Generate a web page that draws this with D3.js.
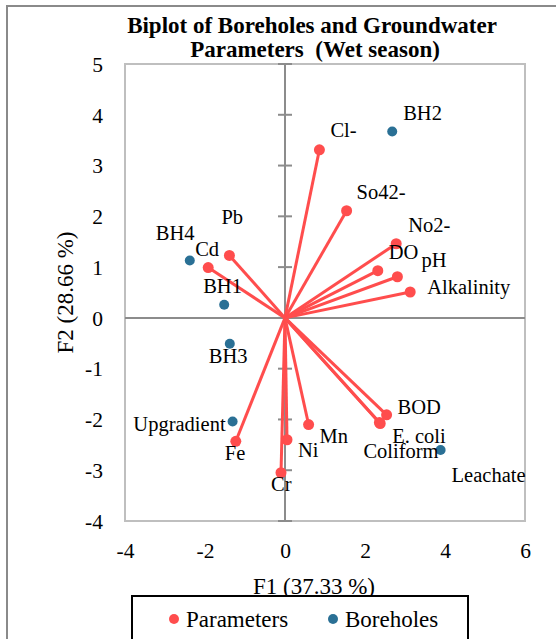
<!DOCTYPE html>
<html>
<head>
<meta charset="utf-8">
<script src="https://cdn.jsdelivr.net/npm/d3@7"></script>
<style>
  body { margin: 0; background: #fff; }
  svg, svg text { font-family: "Liberation Serif", "Times New Roman", serif !important; }
  svg text { fill: #000; }
</style>
</head>
<body>
<svg id="chart" width="556" height="639"></svg>
<script>
// ---- Data ----
const paramNames = ["Cl-", "So42-", "No2-", "DO", "pH", "Alkalinity", "Pb", "Cd", "Fe", "Ni", "Cr", "Mn", "BOD", "E. coli", "Coliform"];
const paramF1 = [0.86, 1.54, 2.78, 2.32, 2.81, 3.13, -1.39, -1.92, -1.23, 0.05, -0.10, 0.59, 2.54, 2.38, 2.36];
const paramF2 = [3.31, 2.11, 1.46, 0.93, 0.81, 0.51, 1.23, 0.99, -2.43, -2.40, -3.05, -2.10, -1.91, -2.08, -2.06];

const boreNames = ["BH2", "BH4", "BH1", "BH3", "Upgradient", "Leachate"];
const boreF1 = [2.68, -2.38, -1.52, -1.38, -1.31, 3.89];
const boreF2 = [3.67, 1.13, 0.26, -0.51, -2.04, -2.60];

const xTicks = [-4, -2, 0, 2, 4, 6];
const yTicks = [-4, -3, -2, -1, 0, 1, 2, 3, 4, 5];

// ---- Layout / style ----
const RED = "#ff4d4d";
const BLUE = "#2a7095";
const FONT = 20.5;
const SERIF = '"Liberation Serif", "Times New Roman", serif';

// label placement relative to the point (px): [dx, dy, anchor]
const labelOffset = {
  "Cl-": [11, -13], "So42-": [10, -12], "No2-": [12, -12], "DO": [11, -12],
  "pH": [24, -10], "Alkalinity": [17, 2], "Pb": [-8, -31], "Cd": [-13, -12],
  "Fe": [-11, 19], "Ni": [11, 17], "Cr": [-10, 18], "Mn": [11, 18],
  "BOD": [11, -1], "E. coli": [12, 19], "Coliform": [-16, 36],
  "BH2": [11, -12], "BH4": [-34, -21], "BH1": [-21, -12], "BH3": [-21, 19],
  "Upgradient": [-7, 10, "end"], "Leachate": [11, 32]
};

const svg = d3.select("#chart").attr("font-family", SERIF);
const x = d3.scaleLinear().domain([-4, 6]).range([125, 525]);
const y = d3.scaleLinear().domain([-4, 5]).range([521, 64]);

// outer chart border (runs off right and bottom)
svg.append("rect")
  .attr("x", 7).attr("y", 6).attr("width", 700).attr("height", 700)
  .attr("fill", "none").attr("stroke", "#8a8a8a").attr("stroke-width", 2);

// title
const title = svg.append("text")
  .attr("text-anchor", "middle")
  .attr("font-weight", "bold")
  .attr("font-size", 23)
  .style("white-space", "pre");
title.append("tspan").attr("x", 312).attr("y", 33).text("Biplot of Boreholes and Groundwater");
title.append("tspan").attr("x", 315).attr("y", 57).text("Parameters  (Wet season)");

// plot border
svg.append("rect")
  .attr("x", x(-4)).attr("y", y(5))
  .attr("width", x(6) - x(-4)).attr("height", y(-4) - y(5))
  .attr("fill", "none").attr("stroke", "#bfbfbf").attr("stroke-width", 2);

// zero axes
svg.append("line")
  .attr("x1", x(-4)).attr("x2", x(6)).attr("y1", y(0)).attr("y2", y(0))
  .attr("stroke", "#8c8c8c").attr("stroke-width", 2);
svg.append("line")
  .attr("x1", x(0)).attr("x2", x(0)).attr("y1", y(5)).attr("y2", y(-4))
  .attr("stroke", "#8c8c8c").attr("stroke-width", 2);
svg.append("g").selectAll("line")
  .data(yTicks)
  .join("line")
  .attr("x1", x(0) - 7).attr("x2", x(0) + 7)
  .attr("y1", (d) => y(d)).attr("y2", (d) => y(d))
  .attr("stroke", "#8c8c8c").attr("stroke-width", 2);

// tick labels (plain hyphen minus, as in the original)
const fmt = (d) => String(d);
const yAxis = svg.append("g")
  .attr("transform", `translate(${x(-4) - 22},0)`)
  .call(d3.axisLeft(y).tickValues(yTicks).tickSize(0).tickPadding(0).tickFormat(fmt));
yAxis.attr("font-family", SERIF).select(".domain").remove();
yAxis.selectAll("text").attr("font-size", 21.5).attr("dy", "0.34em");

const xAxis = svg.append("g")
  .attr("transform", `translate(0,${y(-4)})`)
  .call(d3.axisBottom(x).tickValues(xTicks).tickSize(0).tickPadding(0).tickFormat(fmt));
xAxis.attr("font-family", SERIF).select(".domain").remove();
xAxis.selectAll("text").attr("font-size", 21.5).attr("y", 37).attr("dy", null);
svg.selectAll(".tick text").attr("fill", "#000");

// axis titles
svg.append("text")
  .attr("x", 314).attr("y", 594)
  .attr("text-anchor", "middle").attr("font-size", 23)
  .text("F1 (37.33 %)");
svg.append("text")
  .attr("transform", `translate(73,${(y(5) + y(-4)) / 2}) rotate(-90)`)
  .attr("text-anchor", "middle").attr("font-size", 23)
  .text("F2 (28.66 %)");

// parameter vectors
const params = paramNames.map((n, i) => ({ name: n, f1: paramF1[i], f2: paramF2[i] }));
const bores = boreNames.map((n, i) => ({ name: n, f1: boreF1[i], f2: boreF2[i] }));

svg.append("g").selectAll("line")
  .data(params)
  .join("line")
  .attr("x1", x(0)).attr("y1", y(0))
  .attr("x2", (d) => x(d.f1)).attr("y2", (d) => y(d.f2))
  .attr("stroke", RED).attr("stroke-width", 3);

svg.append("g").selectAll("circle")
  .data(params)
  .join("circle")
  .attr("cx", (d) => x(d.f1)).attr("cy", (d) => y(d.f2))
  .attr("r", 5.5).attr("fill", RED);

svg.append("g").selectAll("circle")
  .data(bores)
  .join("circle")
  .attr("cx", (d) => x(d.f1)).attr("cy", (d) => y(d.f2))
  .attr("r", 5).attr("fill", BLUE);

// point labels
svg.append("g").selectAll("text")
  .data(params.concat(bores))
  .join("text")
  .attr("x", (d) => x(d.f1) + labelOffset[d.name][0])
  .attr("y", (d) => y(d.f2) + labelOffset[d.name][1])
  .attr("text-anchor", (d) => labelOffset[d.name][2] || "start")
  .attr("font-size", FONT)
  .text((d) => d.name);

// legend
const legend = svg.append("g");
legend.append("rect")
  .attr("x", 132).attr("y", 596).attr("width", 336).attr("height", 80)
  .attr("fill", "#fff").attr("stroke", "#000").attr("stroke-width", 2);
const legendItems = [
  { label: "Parameters", color: RED, cx: 174 },
  { label: "Boreholes", color: BLUE, cx: 333 }
];
legend.selectAll("circle")
  .data(legendItems)
  .join("circle")
  .attr("cx", (d) => d.cx).attr("cy", 619)
  .attr("r", 5).attr("fill", (d) => d.color);
legend.selectAll("text")
  .data(legendItems)
  .join("text")
  .attr("x", (d) => d.cx + 12).attr("y", 627)
  .attr("font-size", 23)
  .text((d) => d.label);
</script>
</body>
</html>
